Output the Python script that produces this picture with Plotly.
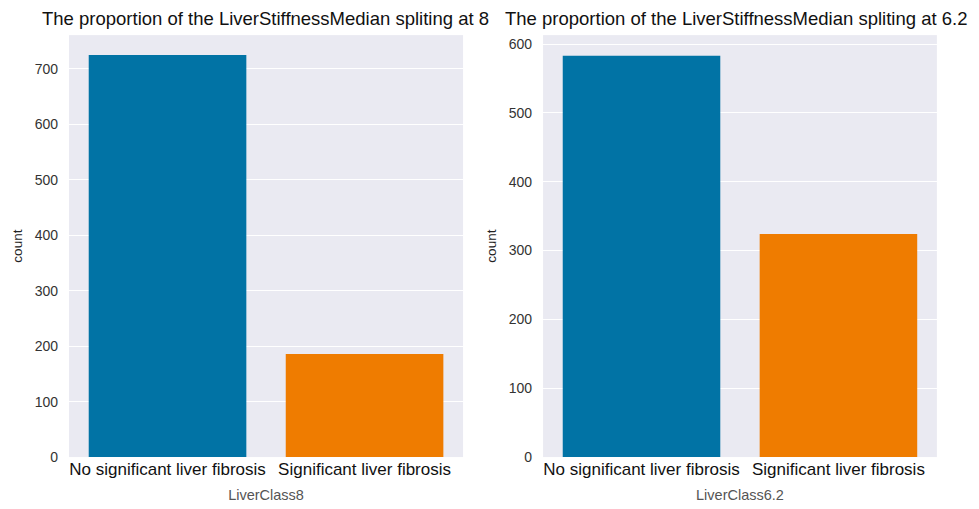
import plotly.graph_objects as go
from plotly.subplots import make_subplots

categories = ["No significant liver fibrosis", "Significant liver fibrosis"]
counts_8 = [725, 186]
counts_62 = [583, 324]
titles = ["The proportion of the LiverStiffnessMedian spliting at 8",
          "The proportion of the LiverStiffnessMedian spliting at 6.2"]
xlabels = ["LiverClass8", "LiverClass6.2"]
colors = ["#0173a5", "#ef7c00"]

fig = make_subplots(rows=1, cols=2)
fig.add_trace(go.Bar(x=categories, y=counts_8, marker_color=colors, width=0.8,
                     marker_line_width=0, showlegend=False), row=1, col=1)
fig.add_trace(go.Bar(x=categories, y=counts_62, marker_color=colors, width=0.8,
                     marker_line_width=0, showlegend=False), row=1, col=2)

font = "Liberation Sans, Arial, sans-serif"
fig.update_layout(
    width=979, height=509,
    margin=dict(l=0, r=0, t=0, b=0),
    paper_bgcolor="white", plot_bgcolor="#eaeaf2",
    font=dict(family=font, color="#222222"),
    bargap=0.2,
)
fig.update_xaxes(showgrid=False, zeroline=False, showline=False, ticks="", automargin=False,
                 tickfont=dict(size=17, color="#111111"), range=[-0.5, 1.5])
fig.update_yaxes(showgrid=True, gridcolor="white", gridwidth=1.2, zeroline=False, automargin=False,
                 showline=False, ticks="", tickfont=dict(size=14, color="#333333"),
                 ticklabelstandoff=10,
                 title=dict(text="count", font=dict(size=13.5, color="#222222"), standoff=8))
fig.update_layout(
    xaxis=dict(domain=[0.0705, 0.473],
               title=dict(text=xlabels[0], font=dict(size=14.5, color="#555555"), standoff=11)),
    xaxis2=dict(domain=[0.5547, 0.957],
                title=dict(text=xlabels[1], font=dict(size=14.5, color="#555555"), standoff=11)),
    yaxis=dict(domain=[0.102, 0.931], range=[0, 761], dtick=100),
    yaxis2=dict(domain=[0.102, 0.931], range=[0, 613], dtick=100),
)
fig.add_annotation(text=titles[0], xref="paper", yref="paper", x=0.2717, y=1 - 18/509,
                   showarrow=False, font=dict(size=18.5, color="#111111"),
                   xanchor="center", yanchor="middle")
fig.add_annotation(text=titles[1], xref="paper", yref="paper", x=0.7513, y=1 - 18/509,
                   showarrow=False, font=dict(size=18.5, color="#111111"),
                   xanchor="center", yanchor="middle")

fig.write_html("out.html", config={"displayModeBar": False},
               post_script="document.body.style.margin='0';document.body.style.overflow='hidden';")
